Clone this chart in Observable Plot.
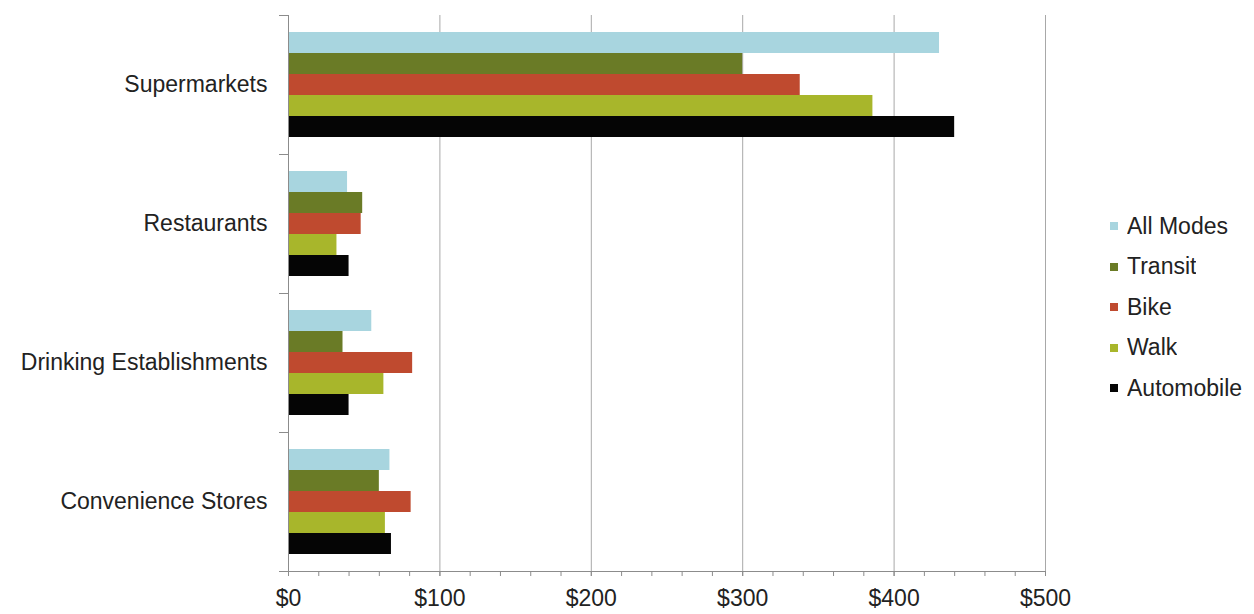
<!DOCTYPE html>
<html>
<head>
<meta charset="utf-8">
<script src="https://cdn.jsdelivr.net/npm/d3@7"></script>
<script src="https://cdn.jsdelivr.net/npm/@observablehq/plot@0.6"></script>
<style>
  body { margin: 0; background: #fff; }
  #wrap { position: relative; width: 1254px; height: 614px; font-family: "Liberation Sans", Arial, sans-serif; }
  #legend { position: absolute; left: 1110px; top: 206px; font-family: "Liberation Sans", Arial, sans-serif !important; font-size: 23px !important; color: #222 !important; }
  #legend .lg-swatches { columns: 1 !important; margin: 0 !important; min-height: 0 !important; font-family: "Liberation Sans", Arial, sans-serif !important; font-size: 23px !important; color: #222 !important; }
  #legend .lg-swatch { display: flex !important; align-items: center !important; height: 40.5px; padding: 0 !important; margin: 0 !important; }
  #legend .lg-swatch svg { margin-right: 9px !important; }
</style>
</head>
<body>
<div id="wrap"></div>
<script>
// Categories (top to bottom) and series
const categories = ["Supermarkets", "Restaurants", "Drinking Establishments", "Convenience Stores"];
const modes = ["All Modes", "Transit", "Bike", "Walk", "Automobile"];

// Values per category, in the order of `categories`
const allModes   = [430, 39, 55, 67];
const transit    = [300, 49, 36, 60];
const bike       = [338, 48, 82, 81];
const walk       = [386, 32, 63, 64];
const automobile = [440, 40, 40, 68];

const modeColors = ["#a8d5df", "#6a7b26", "#bf4a2f", "#a8b62b", "#050505"];

// Axis ticks
const xTicks = [0, 100, 200, 300, 400, 500];
const xTickLabels = ["$0", "$100", "$200", "$300", "$400", "$500"];
const xMinorTicks = [0, 20, 40, 60, 80, 100, 120, 140, 160, 180, 200, 220, 240, 260, 280, 300, 320, 340, 360, 380, 400, 420, 440, 460, 480, 500];

const series = [allModes, transit, bike, walk, automobile];
const rows = categories.flatMap((c, i) => modes.map((m, j) => ({category: c, mode: m, value: series[j][i]})));

const axisColor = "#8c8c8c";
const font = '"Liberation Sans", Arial, sans-serif';
const plotWidth = 1254, mLeft = 288, mRight = 209;
const frameW = plotWidth - mLeft - mRight;
const catTick = 9;

const chart = Plot.plot({
  width: plotWidth,
  height: 614,
  marginLeft: mLeft,
  marginRight: mRight,
  marginTop: 13,
  marginBottom: 42,
  style: {fontFamily: font, fontSize: "23px", color: "#222", background: "#fff"},
  x: {domain: [0, 500], axis: null},
  y: {domain: modes, axis: null, paddingInner: 0, paddingOuter: 0.8},
  fy: {domain: categories, padding: 0},
  color: {domain: modes, range: modeColors},
  marks: [
    Plot.gridX(xTicks.slice(1), {stroke: "#a8a8a8", strokeOpacity: 1}),
    Plot.barX(rows, {x: "value", y: "mode", fy: "category", fill: "mode"}),
    Plot.ruleX([0], {stroke: axisColor}),
    // category boundary ticks on the vertical axis
    Plot.frame({anchor: "top", stroke: axisColor, insetLeft: -catTick, insetRight: frameW}),
    Plot.frame({anchor: "bottom", facetAnchor: "bottom", stroke: axisColor, insetLeft: -catTick, insetRight: frameW}),
    // horizontal axis line
    Plot.frame({anchor: "bottom", facetAnchor: "bottom", stroke: axisColor}),
    Plot.axisX(xMinorTicks, {tickSize: 5, tickFormat: () => "", stroke: axisColor, label: null}),
    Plot.axisX(xTicks, {tickSize: 5, tickPadding: 13, tickFormat: (d) => xTickLabels[xTicks.indexOf(d)], stroke: axisColor, fill: "#222", fontSize: 23, label: null}),
    Plot.axisFy({anchor: "left", tickSize: 0, tickPadding: 21, label: null, fontSize: 23, fill: "#222"})
  ]
});

const wrap = document.getElementById("wrap");
wrap.appendChild(chart);

const legend = Plot.legend({
  color: {domain: modes, range: modeColors},
  legend: "swatches",
  columns: 1,
  swatchWidth: 8,
  swatchHeight: 8,
  className: "lg",
  style: {fontFamily: font, fontSize: "23px", color: "#222"}
});
const lg = document.createElement("div");
lg.id = "legend";
lg.appendChild(legend);
wrap.appendChild(lg);
</script>
</body>
</html>
